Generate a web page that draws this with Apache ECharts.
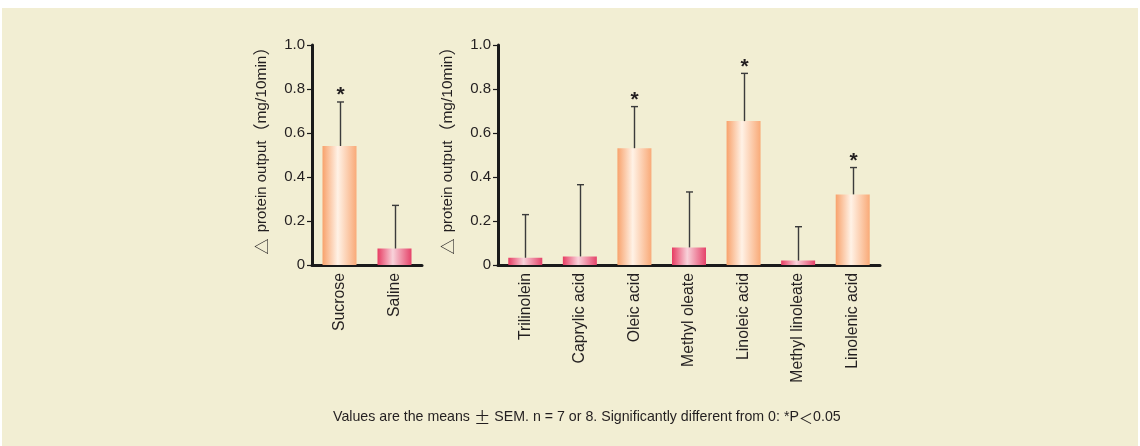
<!DOCTYPE html>
<html>
<head>
<meta charset="utf-8">
<script src="https://cdn.jsdelivr.net/npm/echarts@6/dist/echarts.min.js"></script>
<style>
  html, body { margin: 0; padding: 0; background: #ffffff; }
  #panel { position: absolute; left: 2px; top: 8px; width: 1136px; height: 438px; background: #F2EED3; }
  #chart { position: absolute; left: 0; top: 0; width: 1140px; height: 446px; }
</style>
</head>
<body>
<div id="panel"></div>
<div id="chart"></div>
<script>
// Sweetener controls
const leftCategories = ['Sucrose', 'Saline'];
const leftMeans = [0.541, 0.075];
const leftSem = [0.200, 0.196];
const leftSignificant = [true, false];

// Lipid test substances
const rightCategories = ['Trilinolein', 'Caprylic acid', 'Oleic acid', 'Methyl oleate',
  'Linoleic acid', 'Methyl linoleate', 'Linolenic acid'];
const rightMeans = [0.033, 0.039, 0.531, 0.080, 0.654, 0.020, 0.321];
const rightSem = [0.196, 0.326, 0.189, 0.252, 0.217, 0.154, 0.122];
const rightSignificant = [false, false, true, false, true, false, true];

// Y axis ticks
const yTicks = [0, 0.2, 0.4, 0.6, 0.8, 1.0];

const FONT = '"Liberation Sans", Arial, Helvetica, "Noto Sans CJK JP", sans-serif';
const CJK = '"Noto Sans CJK JP", "Liberation Sans", sans-serif';
const TEXT = '#231F20';

// axis title split into rich-text runs so the full-width symbols use a CJK face
const axisName = '{a|△} {b|protein output}{p|（}{m|mg/10min}{q|）}';
const axisNameRich = {
  a: { fontSize: 16, fontFamily: CJK, color: TEXT, padding: [0, 2, 0, 17] },
  b: { fontSize: 15, fontFamily: FONT, color: TEXT },
  p: { fontSize: 17, fontFamily: CJK, color: TEXT },
  m: { fontSize: 15.5, fontFamily: FONT, color: TEXT },
  q: { fontSize: 17, fontFamily: CJK, color: TEXT }
};

const caption = '{t|Values are the means }{pm|±}{t| SEM. n = 7 or 8. Significantly different from 0: *P}{lt|＜}{t|0.05}';
const captionRich = {
  t: { fontSize: 14.2, fontFamily: FONT, fill: TEXT },
  pm: { fontSize: 16.5, fontFamily: CJK, fill: TEXT },
  lt: { fontSize: 14.2, fontFamily: CJK, fill: TEXT }
};

function barGradient(sig) {
  const edge = sig ? '#F8A26C' : '#E73C63';
  const edge2 = sig ? '#F9AA78' : '#E5436A';
  const mid = sig ? '#FFF2E6' : '#F8D2DA';
  return new echarts.graphic.LinearGradient(0, 0, 1, 0, [
    { offset: 0, color: edge },
    { offset: 0.45, color: mid },
    { offset: 1, color: edge2 }
  ]);
}

function barData(means, sig) {
  return means.map((v, i) => ({ value: v, itemStyle: { color: barGradient(sig[i]) } }));
}

function errData(means, sem, sig) {
  return means.map((v, i) => [i, v, sem[i], sig[i] ? 1 : 0]);
}

function renderError(params, api) {
  const i = api.value(0);
  const m = api.value(1);
  const s = api.value(2);
  const sig = api.value(3);
  const base = api.coord([i, m]);
  const top = api.coord([i, m + s]);
  const x = Math.round(base[0]) + 0.5;
  const stroke = { stroke: '#3b3b3b', lineWidth: 1.4 };
  const children = [
    { type: 'line', shape: { x1: x, y1: base[1], x2: x, y2: top[1] }, style: stroke },
    { type: 'line', shape: { x1: x - 3.5, y1: top[1], x2: x + 3.5, y2: top[1] }, style: stroke }
  ];
  if (sig) {
    children.push({
      type: 'text',
      style: {
        x: x, y: top[1] + 4, text: '*', align: 'center', verticalAlign: 'bottom',
        fontSize: 21, fontWeight: 'bold', fill: TEXT, fontFamily: FONT
      }
    });
  }
  return { type: 'group', children: children };
}

function xAxis(idx, cats) {
  return {
    type: 'category', gridIndex: idx, data: cats,
    axisLine: { lineStyle: { color: '#1a1a1a', width: 3 } },
    axisTick: { alignWithLabel: true, length: 6, lineStyle: { color: '#1a1a1a', width: 1.2 } },
    axisLabel: { rotate: 90, color: TEXT, fontSize: 15.8, fontFamily: FONT, margin: 8 }
  };
}

function yAxis(idx) {
  return {
    type: 'value', gridIndex: idx, min: 0, max: 1, interval: 0.2,
    name: axisName, nameLocation: 'middle', nameRotate: 90, nameGap: 42,
    nameTextStyle: { color: TEXT, fontSize: 15, fontFamily: FONT, rich: axisNameRich },
    axisLine: { show: true, lineStyle: { color: '#1a1a1a', width: 3 } },
    axisTick: { show: true, length: 5, lineStyle: { color: '#1a1a1a', width: 1.2 } },
    splitLine: { show: false },
    axisLabel: {
      color: TEXT, fontSize: 15, fontFamily: FONT, margin: 7,
      formatter: v => {
        const t = yTicks.find(k => Math.abs(k - v) < 1e-6);
        return t === 0 ? '0' : t.toFixed(1);
      }
    }
  };
}

const chart = echarts.init(document.getElementById('chart'), null, { renderer: 'canvas' });

chart.setOption({
  backgroundColor: 'transparent',
  animation: false,
  grid: [
    { left: 312, top: 45, width: 110, height: 220 },
    { left: 498, top: 45, width: 382, height: 220 }
  ],
  xAxis: [xAxis(0, leftCategories), xAxis(1, rightCategories)],
  yAxis: [yAxis(0), yAxis(1)],
  graphic: [{
    type: 'text', left: 333, top: 409,
    style: { text: caption, rich: captionRich, fill: TEXT, fontSize: 14.2, fontFamily: FONT }
  }],
  series: [
    { type: 'bar', xAxisIndex: 0, yAxisIndex: 0, barWidth: 34, data: barData(leftMeans, leftSignificant) },
    { type: 'bar', xAxisIndex: 1, yAxisIndex: 1, barWidth: 34, data: barData(rightMeans, rightSignificant) },
    { type: 'custom', xAxisIndex: 0, yAxisIndex: 0, renderItem: renderError, z: 3,
      encode: { x: 0, y: 1 }, data: errData(leftMeans, leftSem, leftSignificant) },
    { type: 'custom', xAxisIndex: 1, yAxisIndex: 1, renderItem: renderError, z: 3,
      encode: { x: 0, y: 1 }, data: errData(rightMeans, rightSem, rightSignificant) }
  ]
});
</script>
</body>
</html>
